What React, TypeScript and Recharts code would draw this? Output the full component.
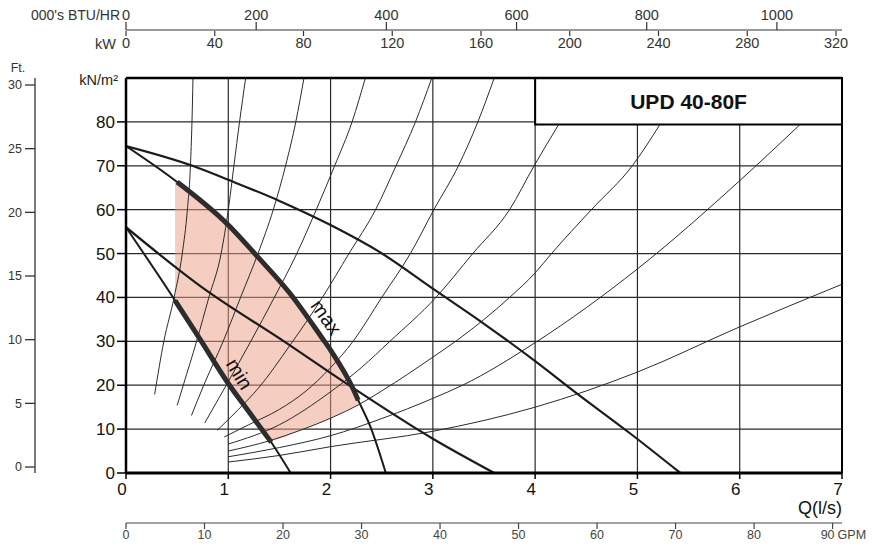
import React from "react";
import {
  ComposedChart,
  Line,
  Area,
  XAxis,
  YAxis,
  CartesianGrid,
  ReferenceArea,
  ReferenceLine,
  ReferenceDot,
} from "recharts";

// axis ticks
const flowTicks = [0, 1, 2, 3, 4, 5, 6, 7];
const kpaTicks = [0, 10, 20, 30, 40, 50, 60, 70, 80];
const feetTicks = [0, 5, 10, 15, 20, 25, 30];
const gpmTicks = [0, 10, 20, 30, 40, 50, 60, 70, 80, 90];
const kwTicks = [0, 40, 80, 120, 160, 200, 240, 280, 320];
const btuTicks = [0, 200, 400, 600, 800, 1000];

const modelName = "UPD 40-80F";

type Pt = { q: number; h: number };

// pump curves (q in l/s, h in kN/m2)
const pumpOuter: Pt[] = [
  { q: 0, h: 74.5 }, { q: 0.65, h: 70 }, { q: 1, h: 66.8 }, { q: 1.5, h: 62 },
  { q: 2, h: 56.5 }, { q: 2.49, h: 50.2 }, { q: 3, h: 42 }, { q: 3.5, h: 34 },
  { q: 4, h: 25.5 }, { q: 4.41, h: 18.1 }, { q: 4.93, h: 9 }, { q: 5.42, h: 0 },
];
const pumpMax: Pt[] = [
  { q: 0, h: 74.5 }, { q: 0.5, h: 66.3 }, { q: 1, h: 56.5 }, { q: 1.27, h: 49.7 },
  { q: 1.6, h: 41 }, { q: 1.91, h: 31 }, { q: 2.0, h: 28 }, { q: 2.22, h: 19.2 },
  { q: 2.27, h: 16.6 }, { q: 2.39, h: 10.5 }, { q: 2.54, h: 0 },
];
const pumpMin: Pt[] = [
  { q: 0, h: 56 }, { q: 0.48, h: 39.3 }, { q: 0.72, h: 30.6 }, { q: 1, h: 20.4 },
  { q: 1.2, h: 14 }, { q: 1.42, h: 7 }, { q: 1.61, h: 0 },
];
const pumpMid: Pt[] = [
  { q: 0, h: 56 }, { q: 0.72, h: 42.7 }, { q: 1.57, h: 29.6 }, { q: 2.16, h: 20.3 },
  { q: 3, h: 7.8 }, { q: 3.6, h: 0 },
];

// thin system curves fanning out
const sysA: Pt[] = [
  { q: 0.28, h: 17.9 }, { q: 0.37, h: 30 }, { q: 0.47, h: 40 }, { q: 0.55, h: 50 },
  { q: 0.6, h: 60 }, { q: 0.63, h: 70 }, { q: 0.645, h: 80 }, { q: 0.655, h: 90 },
];
const sysB: Pt[] = [
  { q: 0.5, h: 15.4 }, { q: 0.56, h: 20 }, { q: 0.69, h: 30 }, { q: 0.81, h: 40 },
  { q: 0.93, h: 50 }, { q: 1.0, h: 60 }, { q: 1.055, h: 70 }, { q: 1.11, h: 80 }, { q: 1.17, h: 90 },
];
const sysC: Pt[] = [
  { q: 0.64, h: 13.1 }, { q: 0.76, h: 20 }, { q: 0.95, h: 30 }, { q: 1.12, h: 40 },
  { q: 1.29, h: 50 }, { q: 1.44, h: 60 }, { q: 1.56, h: 70 }, { q: 1.66, h: 80 }, { q: 1.74, h: 90 },
];
const sysD: Pt[] = [
  { q: 0.77, h: 11.4 }, { q: 0.98, h: 20 }, { q: 1.22, h: 30 }, { q: 1.45, h: 40 },
  { q: 1.67, h: 50 }, { q: 1.86, h: 60 }, { q: 2.04, h: 70 }, { q: 2.21, h: 80 }, { q: 2.34, h: 90 },
];
const sysE: Pt[] = [
  { q: 0.89, h: 9.7 }, { q: 1.1, h: 14.5 }, { q: 1.3, h: 19.5 }, { q: 1.6, h: 29 },
  { q: 1.92, h: 40 }, { q: 2.18, h: 50 }, { q: 2.44, h: 60 }, { q: 2.64, h: 70 },
  { q: 2.83, h: 80 }, { q: 2.99, h: 90 },
];
const sysF: Pt[] = [
  { q: 0.96, h: 8.2 }, { q: 1.2, h: 11 }, { q: 1.5, h: 14.5 }, { q: 1.75, h: 18.5 },
  { q: 2, h: 24 }, { q: 2.22, h: 30 }, { q: 2.5, h: 40 }, { q: 2.78, h: 50 },
  { q: 3.01, h: 60 }, { q: 3.25, h: 70 }, { q: 3.44, h: 80 }, { q: 3.6, h: 90 },
];
const sysG: Pt[] = [
  { q: 1, h: 6.6 }, { q: 1.5, h: 11 }, { q: 2, h: 18.5 }, { q: 2.3, h: 24 },
  { q: 2.58, h: 30 }, { q: 3.03, h: 40 }, { q: 3.39, h: 50 }, { q: 3.75, h: 60 },
  { q: 3.99, h: 70 }, { q: 4.23, h: 79.4 },
];
const sysH: Pt[] = [
  { q: 1, h: 5 }, { q: 1.41, h: 7.4 }, { q: 1.7, h: 9.7 }, { q: 2.03, h: 12.8 },
  { q: 2.27, h: 15.5 }, { q: 2.5, h: 18.7 }, { q: 3, h: 26.4 }, { q: 3.24, h: 30.3 },
  { q: 3.75, h: 40 }, { q: 4, h: 45.6 }, { q: 4.16, h: 50 }, { q: 4.55, h: 60 },
  { q: 4.95, h: 70 }, { q: 5.22, h: 79.4 },
];
const sysI: Pt[] = [
  { q: 1, h: 3.7 }, { q: 1.5, h: 5.8 }, { q: 2, h: 8.5 }, { q: 2.5, h: 12.4 },
  { q: 3, h: 17 }, { q: 3.29, h: 20 }, { q: 4, h: 29.7 }, { q: 5, h: 46.5 },
  { q: 6, h: 66.6 }, { q: 6.59, h: 79.4 },
];
const sysJ: Pt[] = [
  { q: 1, h: 2.5 }, { q: 1.5, h: 4 }, { q: 2, h: 6 }, { q: 3, h: 9.5 },
  { q: 4, h: 15 }, { q: 5, h: 23 }, { q: 6, h: 33.3 }, { q: 7, h: 43 },
];
const systemCurves = [sysA, sysB, sysC, sysD, sysE, sysF, sysG, sysH, sysI, sysJ];

// shaded working range [low, high]
const workBand = [
  { q: 0.48, band: [39.3, 66.6] },
  { q: 0.72, band: [30.6, 62] },
  { q: 1.0, band: [20.4, 56.5] },
  { q: 1.2, band: [14, 51.5] },
  { q: 1.41, band: [7.4, 46] },
  { q: 1.7, band: [9.7, 38] },
  { q: 2.03, band: [12.8, 27] },
  { q: 2.2, band: [14.8, 20] },
  { q: 2.27, band: [15.5, 16.6] },
];

const maxThick = pumpMax.filter((p) => p.q >= 0.5 && p.q <= 2.27);
const minThick = pumpMin.filter((p) => p.q >= 0.48 && p.q <= 1.42);

// rows for the top scale chart (one row per kW tick)
const topScaleRows = kwTicks.map((kw) => ({ kw }));

const ink = "#1b1b1b";

const GpmTick = (props: any) => {
  const { x, y, payload } = props;
  if (payload.value === 90) {
    return (
      <g>
        <text x={x - 5} y={y} dy="0.71em" textAnchor="middle" fontSize={12.5} fill="#444">
          90
        </text>
        <text x={x + 5} y={y} dy="0.71em" textAnchor="start" fontSize={12.5} fill="#444">
          GPM
        </text>
      </g>
    );
  }
  return (
    <text x={x} y={y} dy="0.71em" textAnchor="middle" fontSize={12.5} fill="#444">
      {payload.value}
    </text>
  );
};

export default function App() {
  return (
    <div
      style={{
        position: "absolute",
        left: 0,
        top: 0,
        width: 875,
        height: 553,
        background: "#fff",
        fontFamily: "'Liberation Sans', Arial, sans-serif",
      }}
    >
      <div style={{ position: "absolute", left: 0, top: 0 }}>
        <ComposedChart
          width={875}
          height={553}
          data={workBand}
          margin={{ top: 78, right: 33, bottom: 0, left: 0 }}
        >
          <CartesianGrid stroke="#2a2a2a" strokeWidth={1.2} />

          {/* feet scale */}
          <YAxis
            yAxisId="ft"
            orientation="left"
            type="number"
            domain={[-0.47, 30.55]}
            allowDataOverflow
            ticks={feetTicks}
            interval={0}
            width={35}
            tickSize={10}
            tickMargin={3}
            tick={{ fontSize: 12.5, fill: "#333" }}
            axisLine={{ stroke: "#333", strokeWidth: 1.3 }}
            tickLine={{ stroke: "#333", strokeWidth: 1.3 }}
            label={(p: any) => (
              <text x={18} y={(p.viewBox?.y ?? 78) - 6} textAnchor="middle" fontSize={12.5} fill="#333">
                Ft.
              </text>
            )}
          />
          {/* kN/m2 scale */}
          <YAxis
            type="number"
            domain={[0, 90]}
            allowDataOverflow
            ticks={kpaTicks}
            interval={0}
            width={91}
            tickSize={9}
            tickMargin={2}
            tick={{ fontSize: 17, fill: "#111" }}
            axisLine={{ stroke: "#000", strokeWidth: 2.5 }}
            tickLine={{ stroke: "#000", strokeWidth: 1.5 }}
            label={(p: any) => (
              <text
                x={(p.viewBox?.x ?? 35) + (p.viewBox?.width ?? 91) - 8}
                y={(p.viewBox?.y ?? 78) + 7}
                textAnchor="end"
                fontSize={14.5}
                fill="#222"
              >
                kN/m²
              </text>
            )}
          />
          <XAxis
            dataKey="q"
            type="number"
            domain={[0, 7]}
            allowDataOverflow
            ticks={flowTicks}
            interval={0}
            height={50}
            tickSize={6}
            tickMargin={4}
            tick={{ fontSize: 17, fill: "#111", dx: -4 }}
            axisLine={{ stroke: "#000", strokeWidth: 3 }}
            tickLine={{ stroke: "#000", strokeWidth: 1.5 }}
            label={(p: any) => (
              <text
                x={(p.viewBox?.x ?? 126) + (p.viewBox?.width ?? 716)}
                y={(p.viewBox?.y ?? 473) + 41}
                textAnchor="end"
                fontSize={18}
                fill="#111"
              >
                Q(l/s)
              </text>
            )}
          />
          <XAxis
            xAxisId="gpm"
            dataKey="q"
            type="number"
            domain={[0, 91.2]}
            allowDataOverflow
            ticks={gpmTicks}
            interval={0}
            height={30}
            tickSize={6}
            tickMargin={1}
            tick={<GpmTick />}
            axisLine={{ stroke: "#444", strokeWidth: 1.2 }}
            tickLine={{ stroke: "#444", strokeWidth: 1.2 }}
          />

          <Area
            dataKey="band"
            type="monotone"
            stroke="none"
            fill="#ec9c83"
            fillOpacity={0.5}
            isAnimationActive={false}
          />

          {systemCurves.map((c, i) => (
            <Line
              key={`sys${i}`}
              data={c}
              dataKey="h"
              type="monotone"
              stroke="#2b2b2b"
              strokeWidth={1}
              dot={false}
              isAnimationActive={false}
            />
          ))}

          <Line data={pumpOuter} dataKey="h" type="monotone" stroke={ink} strokeWidth={2.2} dot={false} isAnimationActive={false} />
          <Line data={pumpMid} dataKey="h" type="monotone" stroke={ink} strokeWidth={2.2} dot={false} isAnimationActive={false} />
          <Line data={pumpMax} dataKey="h" type="monotone" stroke={ink} strokeWidth={2} dot={false} isAnimationActive={false} />
          <Line data={pumpMin} dataKey="h" type="monotone" stroke={ink} strokeWidth={2} dot={false} isAnimationActive={false} />
          <Line data={maxThick} dataKey="h" type="monotone" stroke="#2d2d2d" strokeWidth={5} dot={false} isAnimationActive={false} />
          <Line data={minThick} dataKey="h" type="monotone" stroke="#2d2d2d" strokeWidth={5} dot={false} isAnimationActive={false} />

          <ReferenceLine y={90} stroke="#000" strokeWidth={2.5} />
          <ReferenceLine x={7} stroke="#000" strokeWidth={2} />

          <ReferenceArea
            x1={4}
            x2={7}
            y1={79.4}
            y2={90}
            fill="#fff"
            fillOpacity={1}
            stroke="#000"
            strokeWidth={2}
            label={{ value: modelName, position: "center", fontSize: 21, fontWeight: 700, fill: "#111" }}
          />

          <ReferenceDot
            x={1.96}
            y={35.5}
            r={0}
            fill="none"
            stroke="none"
            label={{ value: "max", position: "center", angle: 55, fontSize: 20, fill: "#111" }}
          />
          <ReferenceDot
            x={1.11}
            y={22.6}
            r={0}
            fill="none"
            stroke="none"
            label={{ value: "min", position: "center", angle: 59, fontSize: 20, fill: "#111" }}
          />
        </ComposedChart>
      </div>

      {/* heat output scales along the top */}
      <div style={{ position: "absolute", left: 0, top: 0 }}>
        <ComposedChart
          width={875}
          height={62}
          data={topScaleRows}
          margin={{ top: 0, right: 33, bottom: 0, left: 126 }}
        >
          <XAxis
            xAxisId="btu"
            dataKey="kw"
            orientation="top"
            type="number"
            domain={[0, 1100]}
            allowDataOverflow
            ticks={btuTicks}
            interval={0}
            height={30}
            tickSize={8}
            tickMargin={2}
            tick={{ fontSize: 14.5, fill: "#333" }}
            axisLine={{ stroke: "#333", strokeWidth: 1.2 }}
            tickLine={{ stroke: "#333", strokeWidth: 1.2 }}
            label={(p: any) => (
              <text x={(p.viewBox?.x ?? 126) - 6} y={20} textAnchor="end" fontSize={14} fill="#333">
                000's BTU/HR
              </text>
            )}
          />
          <XAxis
            xAxisId="kw"
            dataKey="kw"
            orientation="bottom"
            type="number"
            domain={[0, 322.7]}
            allowDataOverflow
            ticks={kwTicks}
            interval={0}
            height={31}
            tickSize={5}
            tickMargin={2}
            tick={{ fontSize: 14.5, fill: "#333" }}
            axisLine={false}
            tickLine={{ stroke: "#333", strokeWidth: 1.2 }}
            label={(p: any) => (
              <text x={(p.viewBox?.x ?? 126) - 10} y={49} textAnchor="end" fontSize={14.5} fill="#333">
                kW
              </text>
            )}
          />
          <YAxis hide type="number" domain={[0, 1]} />
        </ComposedChart>
      </div>
    </div>
  );
}
